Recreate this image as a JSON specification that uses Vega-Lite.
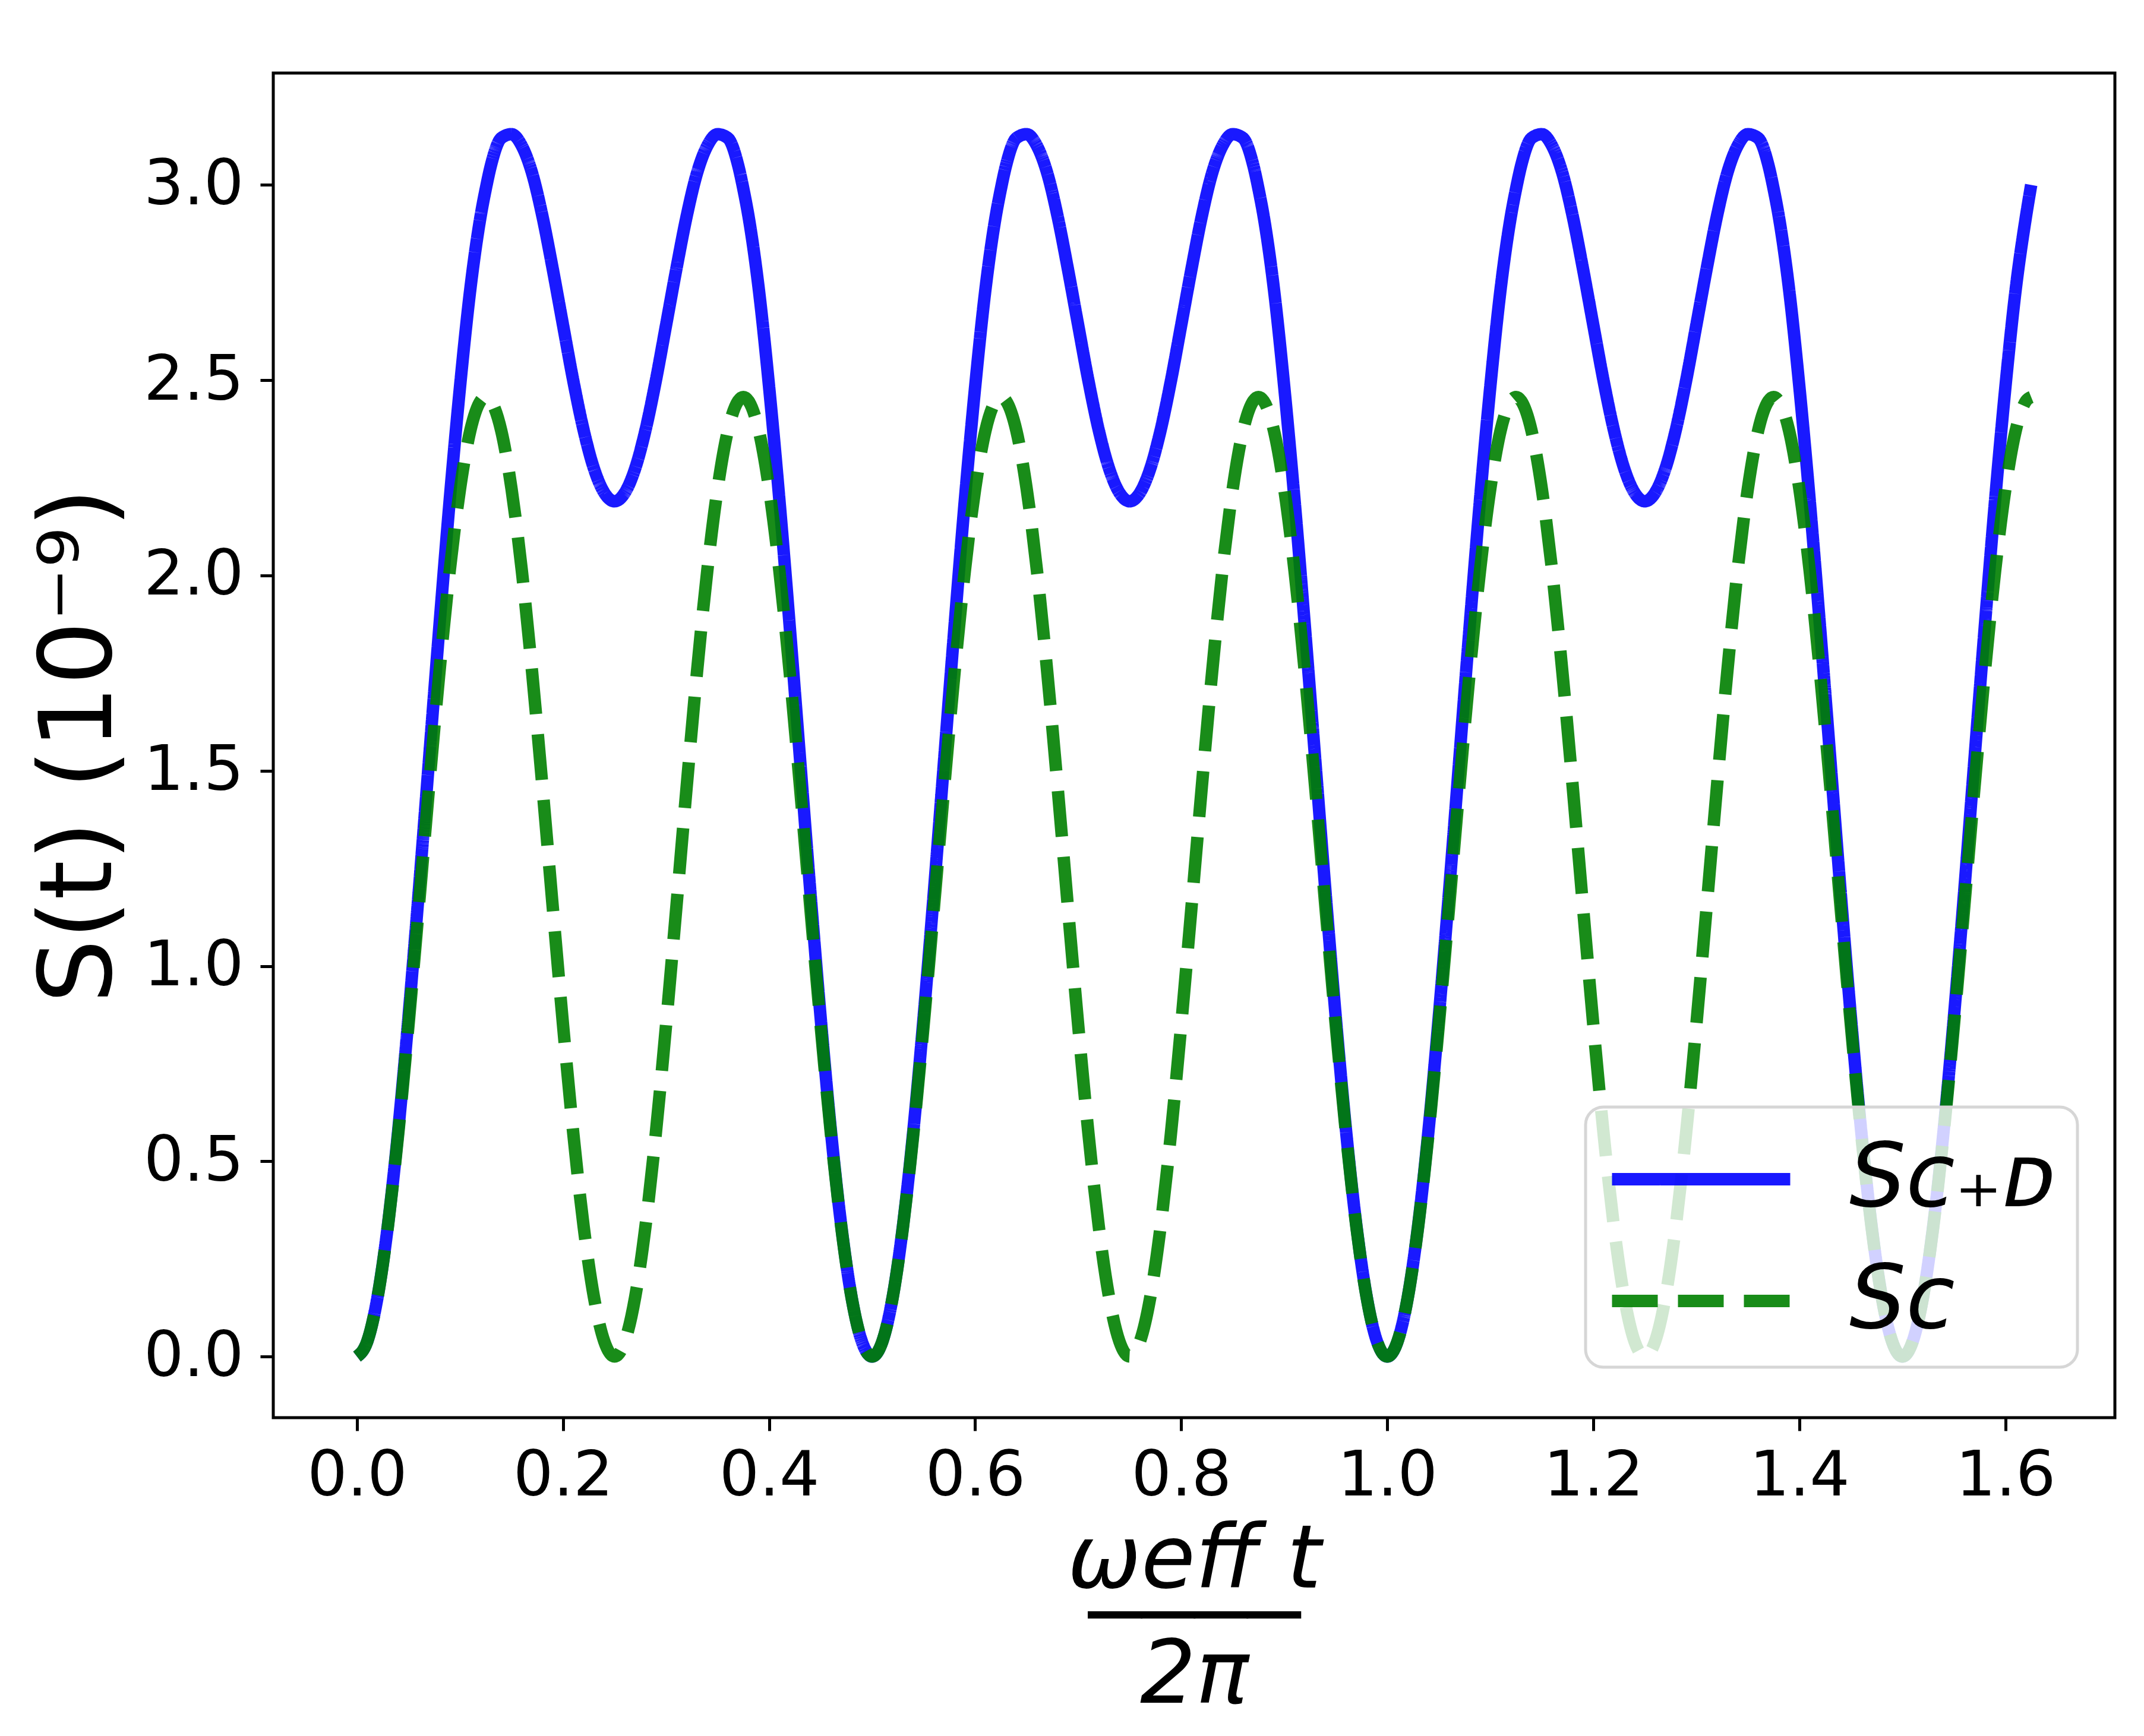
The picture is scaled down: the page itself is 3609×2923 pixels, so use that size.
{
  "$schema": "https://vega.github.io/schema/vega-lite/v6.json",
  "width": 3100,
  "height": 2264,
  "autosize": {"type": "none"},
  "padding": {"left": 460, "top": 123, "right": 49, "bottom": 536},
  "background": "white",
  "data": {
    "values": [
      {"t": 0, "cd": 0, "c": 0},
      {"t": 0.01, "cd": 0.039, "c": 0.039},
      {"t": 0.02, "cd": 0.153, "c": 0.152},
      {"t": 0.03, "cd": 0.336, "c": 0.333},
      {"t": 0.04, "cd": 0.578, "c": 0.57},
      {"t": 0.05, "cd": 0.869, "c": 0.849},
      {"t": 0.06, "cd": 1.191, "c": 1.151},
      {"t": 0.07, "cd": 1.531, "c": 1.459},
      {"t": 0.08, "cd": 1.87, "c": 1.752},
      {"t": 0.09, "cd": 2.193, "c": 2.012},
      {"t": 0.1, "cd": 2.483, "c": 2.222},
      {"t": 0.11, "cd": 2.733, "c": 2.371},
      {"t": 0.12, "cd": 2.92, "c": 2.447},
      {"t": 0.125, "cd": 2.99, "c": 2.457},
      {"t": 0.13, "cd": 3.05, "c": 2.447},
      {"t": 0.14, "cd": 3.12, "c": 2.371},
      {"t": 0.15, "cd": 3.13, "c": 2.222},
      {"t": 0.16, "cd": 3.1, "c": 2.012},
      {"t": 0.17, "cd": 3.03, "c": 1.752},
      {"t": 0.18, "cd": 2.92, "c": 1.459},
      {"t": 0.19, "cd": 2.785, "c": 1.151},
      {"t": 0.2, "cd": 2.641, "c": 0.849},
      {"t": 0.21, "cd": 2.498, "c": 0.57},
      {"t": 0.22, "cd": 2.372, "c": 0.333},
      {"t": 0.23, "cd": 2.274, "c": 0.152},
      {"t": 0.24, "cd": 2.212, "c": 0.039},
      {"t": 0.25, "cd": 2.19, "c": 0},
      {"t": 0.26, "cd": 2.212, "c": 0.039},
      {"t": 0.27, "cd": 2.274, "c": 0.152},
      {"t": 0.28, "cd": 2.372, "c": 0.333},
      {"t": 0.29, "cd": 2.498, "c": 0.57},
      {"t": 0.3, "cd": 2.641, "c": 0.849},
      {"t": 0.31, "cd": 2.785, "c": 1.151},
      {"t": 0.32, "cd": 2.92, "c": 1.459},
      {"t": 0.33, "cd": 3.03, "c": 1.752},
      {"t": 0.34, "cd": 3.1, "c": 2.012},
      {"t": 0.35, "cd": 3.13, "c": 2.222},
      {"t": 0.36, "cd": 3.12, "c": 2.371},
      {"t": 0.37, "cd": 3.05, "c": 2.447},
      {"t": 0.375, "cd": 2.99, "c": 2.457},
      {"t": 0.38, "cd": 2.92, "c": 2.447},
      {"t": 0.39, "cd": 2.733, "c": 2.371},
      {"t": 0.4, "cd": 2.483, "c": 2.222},
      {"t": 0.41, "cd": 2.193, "c": 2.012},
      {"t": 0.42, "cd": 1.87, "c": 1.752},
      {"t": 0.43, "cd": 1.531, "c": 1.459},
      {"t": 0.44, "cd": 1.191, "c": 1.151},
      {"t": 0.45, "cd": 0.869, "c": 0.849},
      {"t": 0.46, "cd": 0.578, "c": 0.57},
      {"t": 0.47, "cd": 0.336, "c": 0.333},
      {"t": 0.48, "cd": 0.153, "c": 0.152},
      {"t": 0.49, "cd": 0.039, "c": 0.039},
      {"t": 0.5, "cd": 0, "c": 0},
      {"t": 0.51, "cd": 0.039, "c": 0.039},
      {"t": 0.52, "cd": 0.153, "c": 0.152},
      {"t": 0.53, "cd": 0.336, "c": 0.333},
      {"t": 0.54, "cd": 0.578, "c": 0.57},
      {"t": 0.55, "cd": 0.869, "c": 0.849},
      {"t": 0.56, "cd": 1.191, "c": 1.151},
      {"t": 0.57, "cd": 1.531, "c": 1.459},
      {"t": 0.58, "cd": 1.87, "c": 1.752},
      {"t": 0.59, "cd": 2.193, "c": 2.012},
      {"t": 0.6, "cd": 2.483, "c": 2.222},
      {"t": 0.61, "cd": 2.733, "c": 2.371},
      {"t": 0.62, "cd": 2.92, "c": 2.447},
      {"t": 0.625, "cd": 2.99, "c": 2.457},
      {"t": 0.63, "cd": 3.05, "c": 2.447},
      {"t": 0.64, "cd": 3.12, "c": 2.371},
      {"t": 0.65, "cd": 3.13, "c": 2.222},
      {"t": 0.66, "cd": 3.1, "c": 2.012},
      {"t": 0.67, "cd": 3.03, "c": 1.752},
      {"t": 0.68, "cd": 2.92, "c": 1.459},
      {"t": 0.69, "cd": 2.785, "c": 1.151},
      {"t": 0.7, "cd": 2.641, "c": 0.849},
      {"t": 0.71, "cd": 2.498, "c": 0.57},
      {"t": 0.72, "cd": 2.372, "c": 0.333},
      {"t": 0.73, "cd": 2.274, "c": 0.152},
      {"t": 0.74, "cd": 2.212, "c": 0.039},
      {"t": 0.75, "cd": 2.19, "c": 0},
      {"t": 0.76, "cd": 2.212, "c": 0.039},
      {"t": 0.77, "cd": 2.274, "c": 0.152},
      {"t": 0.78, "cd": 2.372, "c": 0.333},
      {"t": 0.79, "cd": 2.498, "c": 0.57},
      {"t": 0.8, "cd": 2.641, "c": 0.849},
      {"t": 0.81, "cd": 2.785, "c": 1.151},
      {"t": 0.82, "cd": 2.92, "c": 1.459},
      {"t": 0.83, "cd": 3.03, "c": 1.752},
      {"t": 0.84, "cd": 3.1, "c": 2.012},
      {"t": 0.85, "cd": 3.13, "c": 2.222},
      {"t": 0.86, "cd": 3.12, "c": 2.371},
      {"t": 0.87, "cd": 3.05, "c": 2.447},
      {"t": 0.875, "cd": 2.99, "c": 2.457},
      {"t": 0.88, "cd": 2.92, "c": 2.447},
      {"t": 0.89, "cd": 2.733, "c": 2.371},
      {"t": 0.9, "cd": 2.483, "c": 2.222},
      {"t": 0.91, "cd": 2.193, "c": 2.012},
      {"t": 0.92, "cd": 1.87, "c": 1.752},
      {"t": 0.93, "cd": 1.531, "c": 1.459},
      {"t": 0.94, "cd": 1.191, "c": 1.151},
      {"t": 0.95, "cd": 0.869, "c": 0.849},
      {"t": 0.96, "cd": 0.578, "c": 0.57},
      {"t": 0.97, "cd": 0.336, "c": 0.333},
      {"t": 0.98, "cd": 0.153, "c": 0.152},
      {"t": 0.99, "cd": 0.039, "c": 0.039},
      {"t": 1.0, "cd": 0, "c": 0},
      {"t": 1.01, "cd": 0.039, "c": 0.039},
      {"t": 1.02, "cd": 0.153, "c": 0.152},
      {"t": 1.03, "cd": 0.336, "c": 0.333},
      {"t": 1.04, "cd": 0.578, "c": 0.57},
      {"t": 1.05, "cd": 0.869, "c": 0.849},
      {"t": 1.06, "cd": 1.191, "c": 1.151},
      {"t": 1.07, "cd": 1.531, "c": 1.459},
      {"t": 1.08, "cd": 1.87, "c": 1.752},
      {"t": 1.09, "cd": 2.193, "c": 2.012},
      {"t": 1.1, "cd": 2.483, "c": 2.222},
      {"t": 1.11, "cd": 2.733, "c": 2.371},
      {"t": 1.12, "cd": 2.92, "c": 2.447},
      {"t": 1.125, "cd": 2.99, "c": 2.457},
      {"t": 1.13, "cd": 3.05, "c": 2.447},
      {"t": 1.14, "cd": 3.12, "c": 2.371},
      {"t": 1.15, "cd": 3.13, "c": 2.222},
      {"t": 1.16, "cd": 3.1, "c": 2.012},
      {"t": 1.17, "cd": 3.03, "c": 1.752},
      {"t": 1.18, "cd": 2.92, "c": 1.459},
      {"t": 1.19, "cd": 2.785, "c": 1.151},
      {"t": 1.2, "cd": 2.641, "c": 0.849},
      {"t": 1.21, "cd": 2.498, "c": 0.57},
      {"t": 1.22, "cd": 2.372, "c": 0.333},
      {"t": 1.23, "cd": 2.274, "c": 0.152},
      {"t": 1.24, "cd": 2.212, "c": 0.039},
      {"t": 1.25, "cd": 2.19, "c": 0},
      {"t": 1.26, "cd": 2.212, "c": 0.039},
      {"t": 1.27, "cd": 2.274, "c": 0.152},
      {"t": 1.28, "cd": 2.372, "c": 0.333},
      {"t": 1.29, "cd": 2.498, "c": 0.57},
      {"t": 1.3, "cd": 2.641, "c": 0.849},
      {"t": 1.31, "cd": 2.785, "c": 1.151},
      {"t": 1.32, "cd": 2.92, "c": 1.459},
      {"t": 1.33, "cd": 3.03, "c": 1.752},
      {"t": 1.34, "cd": 3.1, "c": 2.012},
      {"t": 1.35, "cd": 3.13, "c": 2.222},
      {"t": 1.36, "cd": 3.12, "c": 2.371},
      {"t": 1.37, "cd": 3.05, "c": 2.447},
      {"t": 1.375, "cd": 2.99, "c": 2.457},
      {"t": 1.38, "cd": 2.92, "c": 2.447},
      {"t": 1.39, "cd": 2.733, "c": 2.371},
      {"t": 1.4, "cd": 2.483, "c": 2.222},
      {"t": 1.41, "cd": 2.193, "c": 2.012},
      {"t": 1.42, "cd": 1.87, "c": 1.752},
      {"t": 1.43, "cd": 1.531, "c": 1.459},
      {"t": 1.44, "cd": 1.191, "c": 1.151},
      {"t": 1.45, "cd": 0.869, "c": 0.849},
      {"t": 1.46, "cd": 0.578, "c": 0.57},
      {"t": 1.47, "cd": 0.336, "c": 0.333},
      {"t": 1.48, "cd": 0.153, "c": 0.152},
      {"t": 1.49, "cd": 0.039, "c": 0.039},
      {"t": 1.5, "cd": 0, "c": 0},
      {"t": 1.51, "cd": 0.039, "c": 0.039},
      {"t": 1.52, "cd": 0.153, "c": 0.152},
      {"t": 1.53, "cd": 0.336, "c": 0.333},
      {"t": 1.54, "cd": 0.578, "c": 0.57},
      {"t": 1.55, "cd": 0.869, "c": 0.849},
      {"t": 1.56, "cd": 1.191, "c": 1.151},
      {"t": 1.57, "cd": 1.531, "c": 1.459},
      {"t": 1.58, "cd": 1.87, "c": 1.752},
      {"t": 1.59, "cd": 2.193, "c": 2.012},
      {"t": 1.6, "cd": 2.483, "c": 2.222},
      {"t": 1.61, "cd": 2.733, "c": 2.371},
      {"t": 1.62, "cd": 2.92, "c": 2.447},
      {"t": 1.625, "cd": 3.0, "c": 2.457}
    ]
  },
  "encoding": {
    "x": {
      "field": "t",
      "type": "quantitative",
      "scale": {"domain": [-0.08125, 1.70625], "nice": false, "zero": false},
      "axis": {
        "values": [0, 0.2, 0.4, 0.6, 0.8, 1.0, 1.2, 1.4, 1.6],
        "format": ".1f",
        "title": ["ωeff t", "────", "2π"],
        "titleFontSize": 148,
        "titleFontStyle": "italic",
        "titleLineHeight": 97,
        "titlePadding": 17,
        "labelPadding": 24
      }
    }
  },
  "layer": [
    {
      "mark": {"type": "line", "interpolate": "monotone", "strokeWidth": 21, "opacity": 0.9, "strokeCap": "butt"},
      "encoding": {
        "y": {
          "field": "cd",
          "type": "quantitative",
          "scale": {"domain": [-0.1565, 3.2865], "nice": false, "zero": false},
          "axis": {
            "values": [0, 0.5, 1.0, 1.5, 2.0, 2.5, 3.0],
            "format": ".1f",
            "title": "S(t)   (10⁻⁹)",
            "titleFontSize": 170,
            "titlePadding": 38,
            "labelPadding": 28
          }
        },
        "color": {
          "datum": "S_C+D",
          "type": "nominal",
          "scale": {"domain": ["S_C+D", "S_C"], "range": ["#0000ff", "#008000"]},
          "legend": {
            "orient": "none",
            "legendX": 2209,
            "legendY": 1741,
            "title": null,
            "labelExpr": "datum.label == 'S_C+D' ? 'Sᴄ₊ᴅ' : 'Sᴄ'"
          }
        },
        "strokeDash": {
          "datum": "S_C+D",
          "type": "nominal",
          "scale": {"domain": ["S_C+D", "S_C"], "range": [[1, 0], [77, 34]]},
          "legend": {
            "orient": "none",
            "legendX": 2209,
            "legendY": 1741,
            "title": null,
            "labelExpr": "datum.label == 'S_C+D' ? 'Sᴄ₊ᴅ' : 'Sᴄ'"
          }
        }
      }
    },
    {
      "mark": {"type": "line", "interpolate": "monotone", "strokeWidth": 21, "opacity": 0.9, "strokeCap": "butt"},
      "encoding": {
        "y": {"field": "c", "type": "quantitative"},
        "color": {"datum": "S_C", "type": "nominal"},
        "strokeDash": {"datum": "S_C", "type": "nominal"}
      }
    }
  ],
  "config": {
    "font": "DejaVu Sans",
    "view": {"stroke": "black", "strokeWidth": 5},
    "axis": {
      "domain": false,
      "grid": false,
      "ticks": true,
      "tickSize": 22,
      "tickWidth": 5,
      "tickColor": "black",
      "labelFont": "DejaVu Sans",
      "labelFontSize": 106,
      "labelColor": "black",
      "titleFont": "DejaVu Sans",
      "titleFontWeight": "normal",
      "titleColor": "black"
    },
    "legend": {
      "labelFont": "DejaVu Sans",
      "labelFontSize": 150,
      "labelFontStyle": "italic",
      "labelColor": "black",
      "labelLimit": 2000,
      "padding": 36,
      "cornerRadius": 30,
      "fillColor": "rgba(255,255,255,0.8)",
      "strokeColor": "#d6d6d6",
      "strokeWidth": 5,
      "symbolType": "M-2,0H2",
      "symbolSize": 22500,
      "symbolStrokeWidth": 21,
      "symbolOpacity": 0.9,
      "rowPadding": 44,
      "labelOffset": 164,
      "symbolOffset": 73
    }
  }
}
